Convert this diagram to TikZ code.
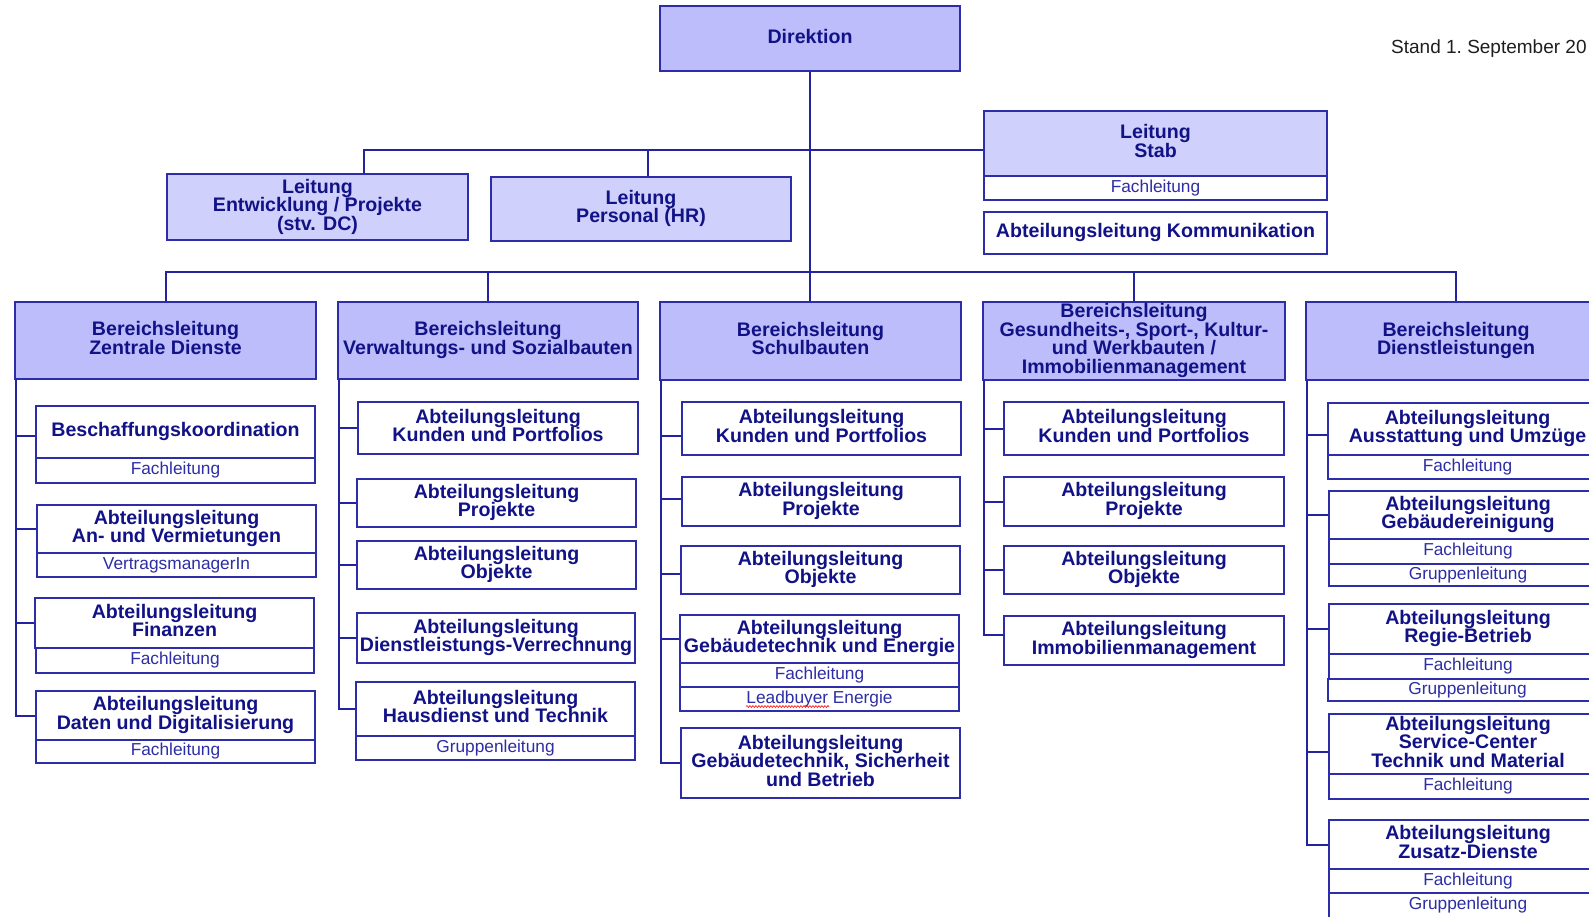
\documentclass[tikz,border=0pt]{standalone}
\usepackage{fontspec}
\setmainfont{Liberation Sans}
\usetikzlibrary{decorations.pathmorphing}
\definecolor{bordc}{RGB}{45,45,170}
\definecolor{linec}{RGB}{35,35,160}
\definecolor{txtc}{RGB}{18,18,135}
\definecolor{subtxt}{RGB}{45,45,165}
\definecolor{blfill}{RGB}{189,189,251}
\definecolor{ltfill}{RGB}{208,208,252}
\newcommand\bfont{\fontsize{19.6}{18.6}\selectfont\bfseries}
\newcommand\rfont{\fontsize{17.3}{18}\selectfont}
\newcommand\bx[7]{%
 \pgfmathsetmacro\bxw{#5-#3}\pgfmathsetmacro\bxh{#6-#4}%
 \pgfmathsetmacro\bxcx{(#3+#5)/2}\pgfmathsetmacro\bxcy{(#4+#6)/2}%
 \node[#1, minimum width=\bxw pt, minimum height=\bxh pt] (#2) at (\bxcx,\bxcy) {#7\rule[-5pt]{0pt}{0pt}};}
\newcommand\sx[7]{%
 \pgfmathsetmacro\bxw{#5-#3}\pgfmathsetmacro\bxh{#6-#4}%
 \pgfmathsetmacro\bxcx{(#3+#5)/2}\pgfmathsetmacro\bxcy{(#4+#6)/2}%
 \node[#1, minimum width=\bxw pt, minimum height=\bxh pt] (#2) at (\bxcx,\bxcy) {#7};}
\tikzset{
 box/.style={draw=bordc, line width=1.6pt, inner sep=0pt, align=center},
 blbox/.style={box, fill=blfill, text=txtc, font=\bfont},
 ltbox/.style={box, fill=ltfill, text=txtc, font=\bfont},
 abbox/.style={box, fill=white, text=txtc, font=\bfont},
 subbox/.style={box, fill=white, text=subtxt, font=\rfont},
 conn/.style={draw=linec, line width=2pt},
}
\begin{document}
\begin{tikzpicture}[x=1pt,y=-1pt]
\path[use as bounding box] (0,0) rectangle (1589,916);
\clip (0,0) rectangle (1589,916);
% top level
\bx{blbox}{dir}{660}{6}{960}{71}{Direktion}
\bx{ltbox}{ent}{167}{174}{468}{240}{Leitung\\Entwicklung / Projekte\\(stv. DC)}
\bx{ltbox}{pers}{491}{177}{791}{241}{Leitung\\Personal (HR)}
\bx{ltbox}{stab}{984}{111}{1327}{176}{Leitung\\Stab}
\sx{subbox}{stabf}{984}{176}{1327}{200}{Fachleitung}
\bx{abbox}{komm}{984}{212}{1327}{254}{Abteilungsleitung Kommunikation}
\node[anchor=base west, font=\fontsize{19}{20}\selectfont, text={rgb,255:red,30;green,30;blue,30}, inner sep=0pt] (stand) at (1391,53) {Stand 1.\ September 20};
% Bereichsleitungen
\bx{blbox}{b1}{15}{302}{316}{379}{Bereichsleitung\\Zentrale Dienste}
\bx{blbox}{b2}{338}{302}{638}{379}{Bereichsleitung\\Verwaltungs- und Sozialbauten}
\bx{blbox}{b3}{660}{302}{961}{380}{Bereichsleitung\\Schulbauten}
\bx{blbox}{b4}{983}{302}{1285}{380}{Bereichsleitung\\Gesundheits-, Sport-, Kultur-\\und Werkbauten /\\Immobilienmanagement}
\bx{blbox}{b5}{1306}{302}{1606}{380}{Bereichsleitung\\Dienstleistungen}
% column 1
\bx{abbox}{c11}{36}{406}{315}{458}{Beschaffungskoordination}
\sx{subbox}{c11f}{36}{458}{315}{483}{Fachleitung}
\bx{abbox}{c12}{37}{505}{316}{553}{Abteilungsleitung\\An- und Vermietungen}
\sx{subbox}{c12f}{37}{553}{316}{577}{VertragsmanagerIn}
\bx{abbox}{c13}{35}{598}{314}{648}{Abteilungsleitung\\Finanzen}
\sx{subbox}{c13f}{36}{648}{314}{673}{Fachleitung}
\bx{abbox}{c14}{36}{691}{315}{740}{Abteilungsleitung\\Daten und Digitalisierung}
\sx{subbox}{c14f}{36}{740}{315}{763}{Fachleitung}
% column 2
\bx{abbox}{c21}{358}{402}{638}{454}{Abteilungsleitung\\Kunden und Portfolios}
\bx{abbox}{c22}{357}{479}{636}{527}{Abteilungsleitung\\Projekte}
\bx{abbox}{c23}{357}{541}{636}{589}{Abteilungsleitung\\Objekte}
\bx{abbox}{c24}{357}{613}{635}{663}{Abteilungsleitung\\Dienstleistungs-Verrechnung}
\bx{abbox}{c25}{356}{682}{635}{736}{Abteilungsleitung\\Hausdienst und Technik}
\sx{subbox}{c25f}{356}{736}{635}{760}{Gruppenleitung}
% column 3
\bx{abbox}{c31}{682}{402}{961}{455}{Abteilungsleitung\\Kunden und Portfolios}
\bx{abbox}{c32}{682}{477}{960}{526}{Abteilungsleitung\\Projekte}
\bx{abbox}{c33}{681}{546}{960}{594}{Abteilungsleitung\\Objekte}
\bx{abbox}{c34}{680}{615}{959}{663}{Abteilungsleitung\\Gebäudetechnik und Energie}
\sx{subbox}{c34f}{680}{663}{959}{687}{Fachleitung}
\sx{subbox}{c34g}{680}{687}{959}{711}{Leadbuyer Energie}
\bx{abbox}{c35}{681}{728}{960}{798}{Abteilungsleitung\\Gebäudetechnik, Sicherheit\\und Betrieb}
% column 4
\bx{abbox}{c41}{1004}{402}{1284}{455}{Abteilungsleitung\\Kunden und Portfolios}
\bx{abbox}{c42}{1004}{477}{1284}{526}{Abteilungsleitung\\Projekte}
\bx{abbox}{c43}{1004}{546}{1284}{594}{Abteilungsleitung\\Objekte}
\bx{abbox}{c44}{1004}{616}{1284}{665}{Abteilungsleitung\\Immobilienmanagement}
% column 5
\bx{abbox}{c51}{1328}{403}{1607}{455}{Abteilungsleitung\\Ausstattung und Umzüge}
\sx{subbox}{c51f}{1328}{455}{1607}{479}{Fachleitung}
\bx{abbox}{c52}{1329}{491}{1607}{539}{Abteilungsleitung\\Gebäudereinigung}
\sx{subbox}{c52f}{1329}{539}{1607}{564}{Fachleitung}
\sx{subbox}{c52g}{1329}{564}{1607}{586}{Gruppenleitung}
\bx{abbox}{c53}{1329}{604}{1607}{654}{Abteilungsleitung\\Regie-Betrieb}
\sx{subbox}{c53f}{1329}{654}{1607}{679}{Fachleitung}
\sx{subbox}{c53g}{1328}{679}{1607}{701}{Gruppenleitung}
\bx{abbox}{c54}{1329}{714}{1607}{774}{Abteilungsleitung\\Service-Center\\Technik und Material}
\sx{subbox}{c54f}{1329}{774}{1607}{799}{Fachleitung}
\bx{abbox}{c55}{1329}{820}{1607}{869}{Abteilungsleitung\\Zusatz-Dienste}
\sx{subbox}{c55f}{1329}{869}{1607}{893}{Fachleitung}
\sx{subbox}{c55g}{1329}{893}{1607}{918}{Gruppenleitung}
% spell-check squiggle
\coordinate (sqa) at (746,706.5);
\coordinate (sqb) at (829,706.5);
\draw[red, line width=0.6pt, decorate, decoration={snake, amplitude=0.9pt, segment length=3pt}] (sqa) -- (sqb);
% connectors top
\coordinate (staffA) at (364,150);
\coordinate (staffB) at (648,150);
\coordinate (bus) at (0,272);
\draw[conn] (dir.south) -- (dir.south |- b3.north);
\draw[conn] (ent.north -| staffA) |- (stab.west |- staffA);
\draw[conn] (pers.north -| staffB) -- (staffB);
\draw[conn] (b1.north) -- (b1.north |- bus) -| (b5.north);
\draw[conn] (b2.north) -- (b2.north |- bus);
\draw[conn] (b4.north) -- (b4.north |- bus);
% spines column 1
\draw[conn] ([xshift=2pt]b1.south west) |- ([yshift=-4pt]c11.west);
\draw[conn] ([xshift=2pt]b1.south west) |- (c12.west);
\draw[conn] ([xshift=2pt]b1.south west) |- (c13.west);
\draw[conn] ([xshift=2pt]b1.south west) |- (c14.west);
% column 2
\draw[conn] ([xshift=1.5pt]b2.south west) |- (c21.west);
\draw[conn] ([xshift=1.5pt]b2.south west) |- (c22.west);
\draw[conn] ([xshift=1.5pt]b2.south west) |- (c23.west);
\draw[conn] ([xshift=1.5pt]b2.south west) |- (c24.west);
\draw[conn] ([xshift=1.5pt]b2.south west) |- (c25.west);
% column 3
\draw[conn] ([xshift=1.5pt]b3.south west) |- ([yshift=-7.5pt]c31.west);
\draw[conn] ([xshift=1.5pt]b3.south west) |- ([yshift=3pt]c32.west);
\draw[conn] ([xshift=1.5pt]b3.south west) |- ([yshift=-4pt]c33.west);
\draw[conn] ([xshift=1.5pt]b3.south west) |- (c34.west);
\draw[conn] ([xshift=1.5pt]b3.south west) |- (c35.west);
% column 4
\draw[conn] ([xshift=1.5pt]b4.south west) |- (c41.west);
\draw[conn] ([xshift=1.5pt]b4.south west) |- (c42.west);
\draw[conn] ([xshift=1.5pt]b4.south west) |- (c43.west);
\draw[conn] ([xshift=1.5pt]b4.south west) |- ([yshift=6pt]c44.west);
% column 5
\draw[conn] ([xshift=1.5pt]b5.south west) |- ([yshift=-6pt]c51.west);
\draw[conn] ([xshift=1.5pt]b5.south west) |- (c52.west);
\draw[conn] ([xshift=1.5pt]b5.south west) |- (c53.west);
\draw[conn] ([xshift=1.5pt]b5.south west) |- ([yshift=-8pt]c54.west);
\draw[conn] ([xshift=1.5pt]b5.south west) |- (c55.west);
\end{tikzpicture}
\end{document}
